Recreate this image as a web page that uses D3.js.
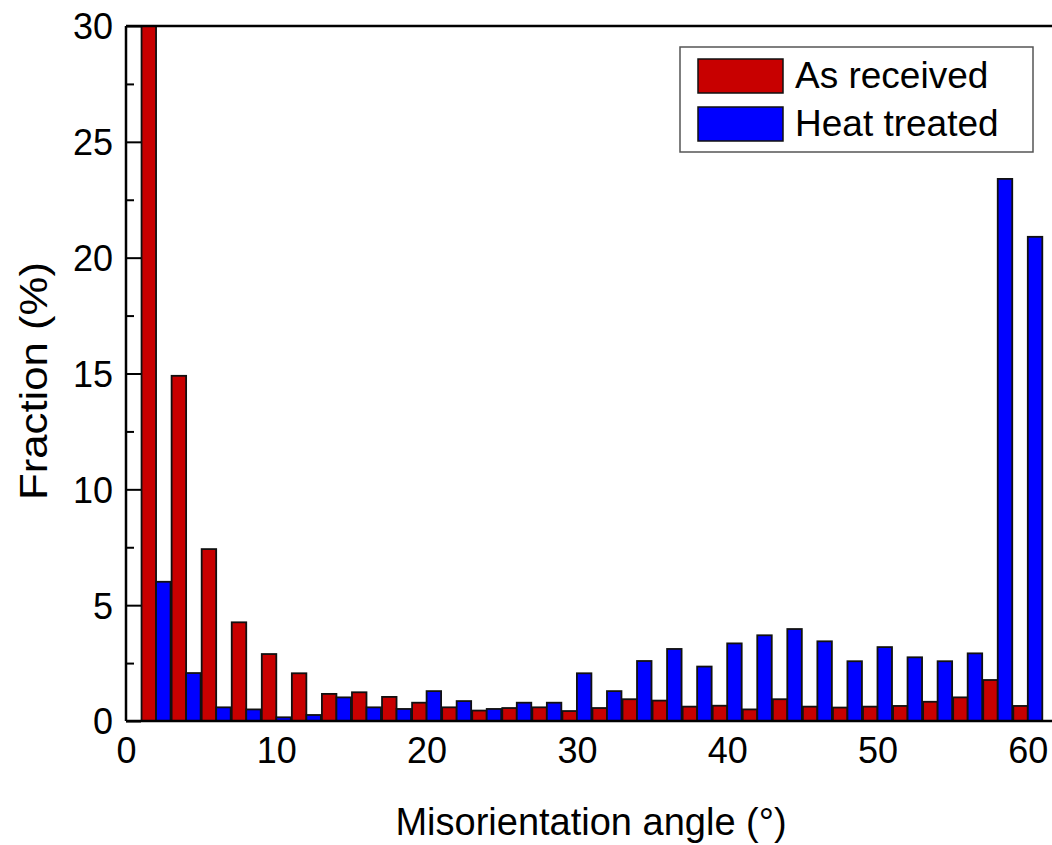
<!DOCTYPE html>
<html>
<head>
<meta charset="utf-8">
<script src="https://d3js.org/d3.v7.min.js"></script>
<style>
  body { margin:0; background:#fff; }
  svg { display:block; font-family:"Liberation Sans", Arial, sans-serif; }
</style>
</head>
<body>
<div id="chart"></div>
<script>
// bin centres (degrees)
var angles = [2,4,6,8,10,12,14,16,18,20,22,24,26,28,30,32,34,36,38,40,42,44,46,48,50,52,54,56,58,60];
var asReceived = [30,14.9,7.42,4.26,2.89,2.06,1.17,1.24,1.04,0.79,0.59,0.45,0.56,0.59,0.43,0.56,0.94,0.88,0.62,0.66,0.5,0.94,0.62,0.58,0.62,0.65,0.83,1.02,1.77,0.65];
var heatTreated = [6.01,2.07,0.59,0.5,0.16,0.26,1.02,0.59,0.52,1.29,0.86,0.52,0.79,0.79,2.06,1.29,2.59,3.11,2.35,3.35,3.7,3.97,3.44,2.58,3.19,2.75,2.58,2.92,23.4,20.9];
var seriesNames = ["As received", "Heat treated"];
var seriesColors = ["#c80000", "#0000ff"];
var xTicks = [0,10,20,30,40,50,60];
var yTicks = [0,5,10,15,20,25,30];

var W = 1052, H = 845;
var margin = {top: 26, left: 126};
var pxPerDeg = 15.03;
var width = 62 * pxPerDeg, height = 695;

var svg = d3.select("#chart").append("svg")
  .attr("width", W).attr("height", H);

var g = svg.append("g")
  .attr("transform", "translate(" + margin.left + "," + margin.top + ")");

var x = d3.scaleLinear().domain([0, 62]).range([0, width]);
var y = d3.scaleLinear().domain([0, 30]).range([height, 0]);
// offset of each series inside a bin, in degrees
var sub = d3.scaleBand().domain(seriesNames).range([-0.965, 0.965]);

var rows = [];
angles.forEach(function(a, i) {
  rows.push({s: seriesNames[0], a: a, v: asReceived[i]});
  rows.push({s: seriesNames[1], a: a, v: heatTreated[i]});
});

g.append("clipPath").attr("id", "clip")
  .append("rect").attr("x", 0).attr("y", 0).attr("width", width).attr("height", height);

g.append("g").attr("clip-path", "url(#clip)")
  .selectAll("rect")
  .data(rows)
  .enter().append("rect")
    .attr("x", function(d) { return x(d.a + sub(d.s)); })
    .attr("width", function(d) { return x(sub.bandwidth()) - x(0); })
    .attr("y", function(d) { return y(d.v); })
    .attr("height", function(d) { return y(0) - y(d.v); })
    .style("fill", function(d) { return seriesColors[seriesNames.indexOf(d.s)]; })
    .style("stroke", "#111")
    .style("stroke-width", 1.8);

// y axis, inward ticks with minor ticks
var yMinor = d3.range(2.5, 30, 5);
g.append("g")
  .call(d3.axisRight(y).tickValues(yMinor).tickSize(8).tickFormat(""))
  .call(function(s) { s.select(".domain").remove(); })
  .selectAll("line").style("stroke", "#000").style("stroke-width", 2);

var yAxis = g.append("g")
  .call(d3.axisLeft(y).tickValues(yTicks).tickSize(-15).tickPadding(13));
yAxis.select(".domain").remove();
yAxis.selectAll("line").style("stroke", "#000").style("stroke-width", 2);
yAxis.selectAll("text").style("font-size", "36px").style("fill", "#000")
  .attr("dy", "0.36em")
  .style("font-family", "'Liberation Sans', Arial, sans-serif");

var xAxis = g.append("g")
  .attr("transform", "translate(0," + height + ")")
  .call(d3.axisBottom(x).tickValues(xTicks).tickSize(0).tickPadding(16));
xAxis.select(".domain").remove();
xAxis.selectAll("text").style("font-size", "36px").style("fill", "#000")
  .style("font-family", "'Liberation Sans', Arial, sans-serif");

// frame lines
g.append("line").attr("x1", 0).attr("x2", 0).attr("y1", 0).attr("y2", height)
  .style("stroke", "#000").style("stroke-width", 2.5);
g.append("line").attr("x1", 0).attr("x2", width).attr("y1", height).attr("y2", height)
  .style("stroke", "#000").style("stroke-width", 2.5);
g.append("line").attr("x1", 0).attr("x2", width).attr("y1", 0).attr("y2", 0)
  .style("stroke", "#000").style("stroke-width", 2.5);

// axis titles
svg.append("text")
  .attr("x", 591).attr("y", 835)
  .attr("text-anchor", "middle")
  .style("font-size", "38px")
  .text("Misorientation angle (°)");

svg.append("text")
  .attr("transform", "translate(47,381) rotate(-90) scale(1.15,1)")
  .attr("text-anchor", "middle")
  .style("font-size", "38px")
  .text("Fraction (%)");

// legend
var legend = svg.append("g");
legend.append("rect")
  .attr("x", 680).attr("y", 47).attr("width", 353).attr("height", 105)
  .style("fill", "#fff").style("stroke", "#555").style("stroke-width", 1.5);
seriesNames.forEach(function(name, i) {
  legend.append("rect")
    .attr("x", 698).attr("y", 59 + i * 48).attr("width", 85).attr("height", 34)
    .style("fill", seriesColors[i]).style("stroke", "#111").style("stroke-width", 1.5);
  legend.append("text")
    .attr("x", 795).attr("y", 88 + i * 48)
    .style("font-size", "37px")
    .text(name);
});
</script>
</body>
</html>
